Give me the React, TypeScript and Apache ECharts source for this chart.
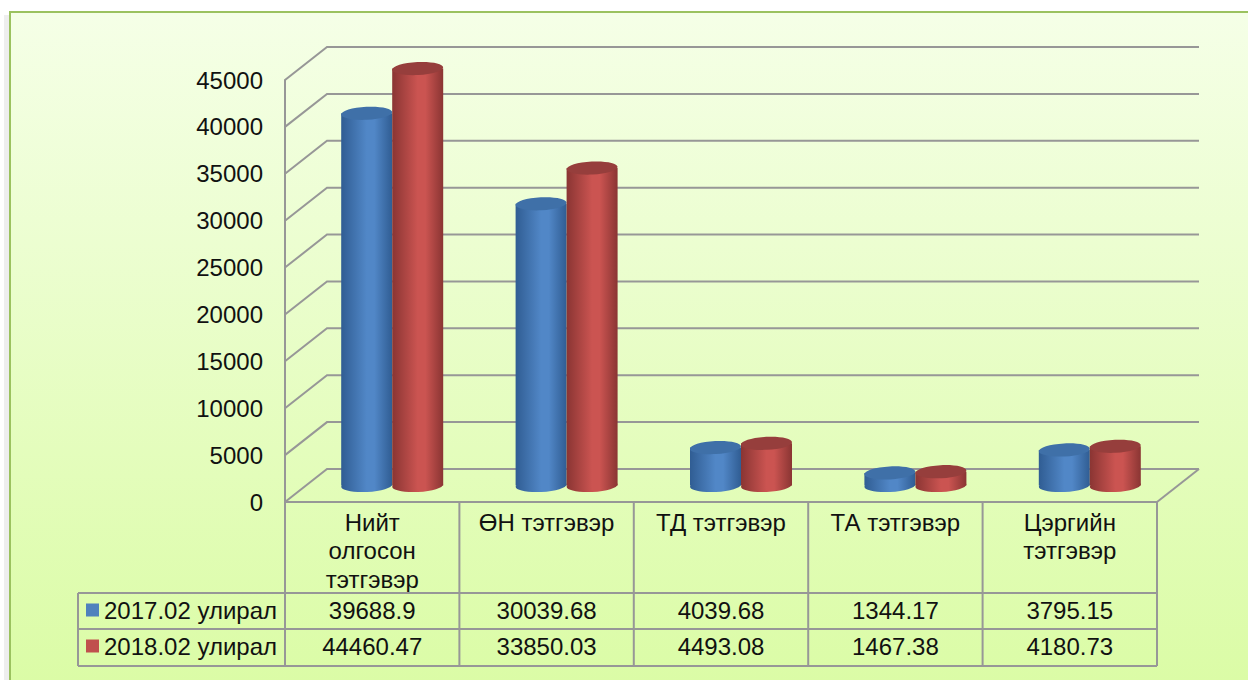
import React, { useEffect, useRef } from "react";
import * as echarts from "echarts";

const categories = ["Нийт\nолгосон\nтэтгэвэр", "ӨН тэтгэвэр", "ТД тэтгэвэр", "ТА тэтгэвэр", "Цэргийн\nтэтгэвэр"];
const seriesNames = ["2017.02 улирал", "2018.02 улирал"];
const values2017 = [39688.9, 30039.68, 4039.68, 1344.17, 3795.15];
const values2018 = [44460.47, 33850.03, 4493.08, 1467.38, 4180.73];
const labels2017 = ["39688.9", "30039.68", "4039.68", "1344.17", "3795.15"];
const labels2018 = ["44460.47", "33850.03", "4493.08", "1467.38", "4180.73"];
const yTicks = [0, 5000, 10000, 15000, 20000, 25000, 30000, 35000, 40000, 45000];

const FONT = '"Liberation Sans", Arial, sans-serif';
const G = { left: 285, top: 80, width: 872, height: 422 };
const DX = 42;
const DY = 33;
const LINE = "#979797";
const TEXT = "#111111";
const FS = 24;

function cylinder(off: number, side: string, mid: string, top: string) {
  return (params: any, api: any) => {
    const topPt = api.coord([api.value(0), api.value(1)]);
    const basePt = api.coord([api.value(0), 0]);
    const cx = topPt[0] + DX / 2 - 1 + off;
    const yT = topPt[1] - DY / 2;
    const yB = basePt[1] - DY / 2;
    const rx = 25.5;
    const ry = 6.5;
    const tilt = 0.05;
    const fill = () => ({
      type: "linear", x: 0, y: 0, x2: 1, y2: 0,
      colorStops: [
        { offset: 0, color: side },
        { offset: 0.5, color: mid },
        { offset: 0.65, color: mid },
        { offset: 1, color: side },
      ],
    });
    return {
      type: "group",
      children: [
        { type: "ellipse", x: cx, y: yB, rotation: tilt, shape: { cx: 0, cy: 0, rx, ry }, style: { fill: fill() } },
        { type: "rect", shape: { x: cx - rx, y: yT, width: rx * 2, height: yB - yT }, style: { fill: fill() } },
        { type: "ellipse", x: cx, y: yT, rotation: tilt, shape: { cx: 0, cy: 0, rx, ry }, style: { fill: top } },
      ],
    };
  };
}

function wallLine(params: any, api: any) {
  const cs = params.coordSys;
  const y = api.coord([0, api.value(1)])[1];
  const x0 = cs.x;
  const x1 = cs.x + cs.width;
  const st = { stroke: LINE, lineWidth: 2, fill: "none" };
  const children: any[] = [
    { type: "polyline", shape: { points: [[x0, y], [x0 + DX, y - DY], [x1 + DX, y - DY]] }, style: st },
  ];
  if (api.value(1) === 0) {
    children.push({ type: "line", shape: { x1: x1, y1: y, x2: x1 + DX, y2: y - DY }, style: st });
  }
  return { type: "group", children };
}

function tableGraphics() {
  const colW = G.width / categories.length;
  const tTop = G.top + G.height;
  const r1 = 593;
  const r2 = 629;
  const r3 = 666;
  const tLeft = 78;
  const right = G.left + G.width;
  const st = { stroke: LINE, lineWidth: 2 };
  const out: any[] = [];
  [r1, r2, r3].forEach((y) => out.push({ type: "line", z: 5, shape: { x1: tLeft, y1: y, x2: right, y2: y }, style: st }));
  out.push({ type: "line", z: 5, shape: { x1: tLeft, y1: r1, x2: tLeft, y2: r3 }, style: st });
  for (let i = 0; i <= categories.length; i++) {
    const x = G.left + i * colW;
    out.push({ type: "line", z: 5, shape: { x1: x, y1: tTop, x2: x, y2: r3 }, style: st });
  }
  [labels2017, labels2018].forEach((row, j) => {
    row.forEach((t, i) => {
      out.push({
        type: "text", z: 6,
        x: G.left + (i + 0.5) * colW, y: j === 0 ? 610 : 646,
        style: { text: t, fill: TEXT, font: `${FS}px ${FONT}`, align: "center", verticalAlign: "middle" },
      });
    });
  });
  return out;
}

export default function App() {
  const ref = useRef<HTMLDivElement>(null);
  useEffect(() => {
    const chart = echarts.init(ref.current!, undefined, { renderer: "svg" });
    chart.setOption({
      animation: false,
      textStyle: { fontFamily: FONT },
      graphic: [
        { type: "rect", z: -10, silent: true, shape: { x: 4, y: 15, width: 5, height: 665 }, style: { fill: "#eeeeee" } },
        {
          type: "rect", z: -9, silent: true,
          shape: { x: 10, y: 12, width: 1240, height: 670 },
          style: {
            fill: {
              type: "linear", x: 0, y: 0, x2: 0, y2: 1,
              colorStops: [{ offset: 0, color: "#f5ffe7" }, { offset: 1, color: "#dbfca6" }],
            },
            stroke: "#9bc25f", lineWidth: 2,
          },
        },
        ...tableGraphics(),
      ],
      grid: { ...G, containLabel: false },
      legend: {
        data: seriesNames,
        orient: "vertical",
        left: 86,
        top: 598,
        padding: 0,
        itemWidth: 13,
        itemHeight: 13,
        itemGap: 12,
        icon: "rect",
        textStyle: { fontFamily: FONT, fontSize: FS, color: TEXT, padding: [0, 0, 0, 0] },
      },
      xAxis: {
        type: "category",
        data: categories,
        axisLine: { show: true, lineStyle: { color: LINE, width: 2 } },
        axisTick: { show: false },
        axisLabel: { interval: 0, margin: 6, fontFamily: FONT, fontSize: FS, color: TEXT, lineHeight: 28.5 },
      },
      yAxis: {
        type: "value",
        min: 0,
        max: 45000,
        interval: 5000,
        axisLine: { show: true, lineStyle: { color: LINE, width: 2 } },
        axisTick: { show: false },
        splitLine: { show: false },
        axisLabel: {
          margin: 22, fontFamily: FONT, fontSize: FS, color: TEXT, padding: [6, 0, 0, 0],
          formatter: (v: number) => String(v),
        },
      },
      series: [
        {
          type: "custom", name: "wall", z: 1, silent: true, clip: false,
          renderItem: wallLine,
          data: yTicks.map((v) => [0, v]),
        },
        {
          type: "custom", name: seriesNames[0], z: 2, clip: false,
          itemStyle: { color: "#4f81bd" },
          renderItem: cylinder(-25.5, "#305d93", "#5187c7", "#3f70a8"),
          data: values2017.map((v, i) => [i, v]),
        },
        {
          type: "custom", name: seriesNames[1], z: 3, clip: false,
          itemStyle: { color: "#c0504d" },
          renderItem: cylinder(25.5, "#8a3533", "#cb5451", "#963e3c"),
          data: values2018.map((v, i) => [i, v]),
        },
      ],
    });
    return () => chart.dispose();
  }, []);
  return <div ref={ref} style={{ position: "fixed", left: 0, top: 0, width: 1248, height: 680, background: "#ffffff" }} />;
}
